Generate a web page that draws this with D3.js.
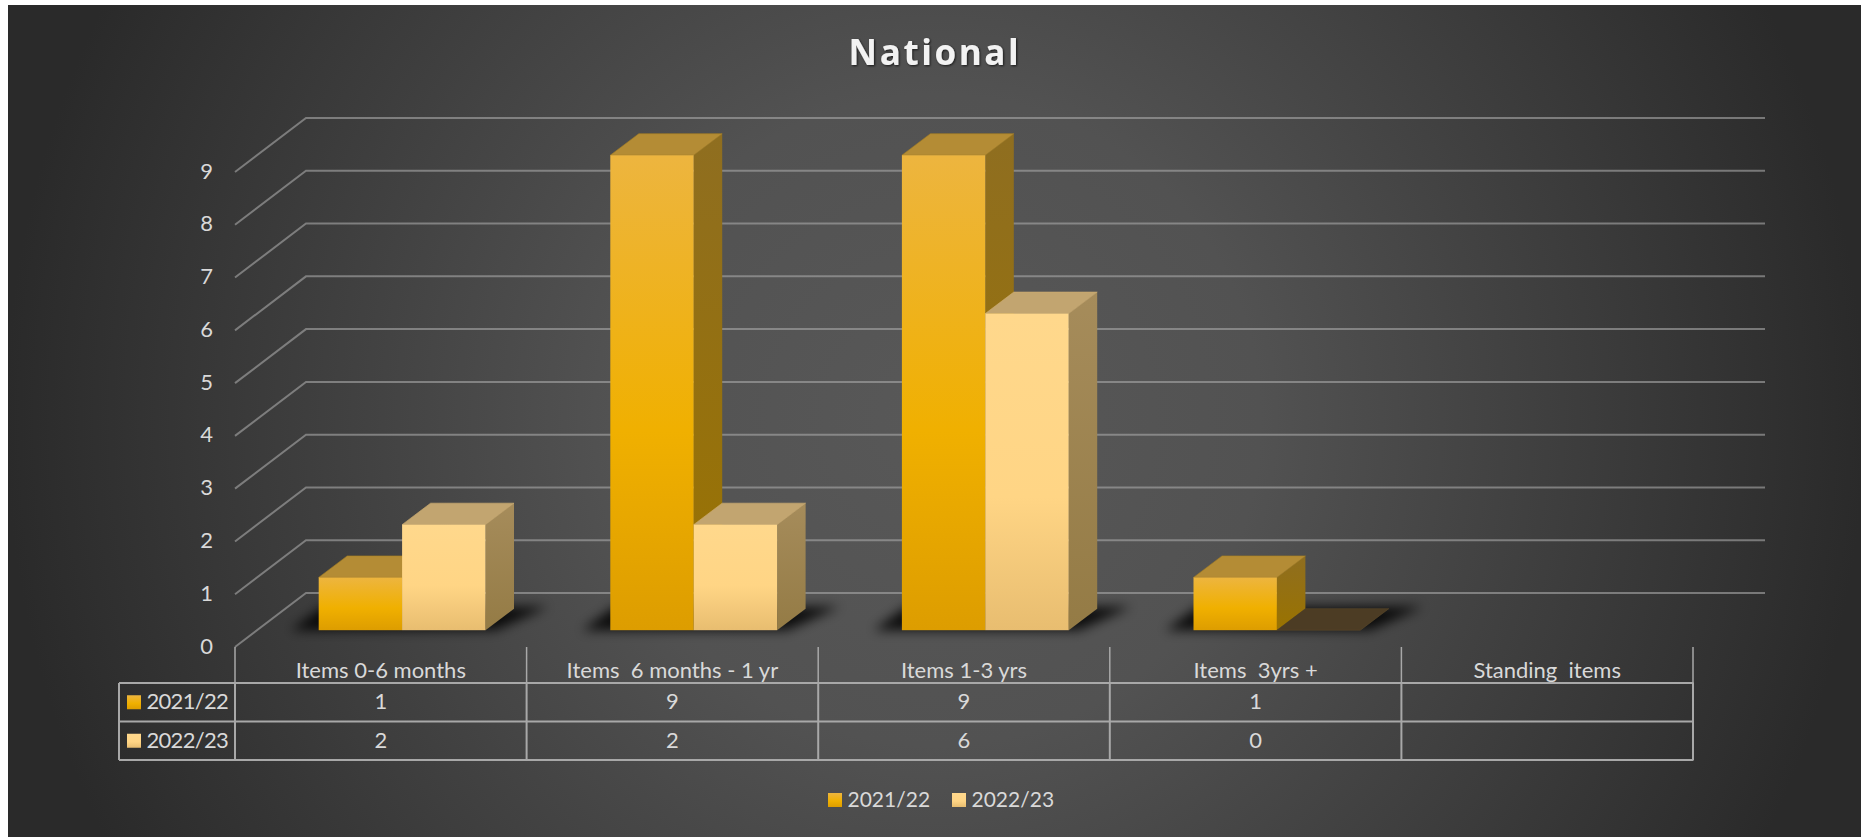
<!DOCTYPE html>
<html>
<head>
<meta charset="utf-8">
<script src="https://cdn.jsdelivr.net/npm/d3@7"></script>
<style>
  html, body { margin: 0; padding: 0; background: #fff; overflow: hidden; }
  svg { display: block; }
  text { font-family: Lato, "Open Sans", sans-serif; fill: #d9d9d9; white-space: pre; }
</style>
</head>
<body>
<div id="chart"></div>
<script>
const categories = ["Items 0-6 months", "Items  6 months - 1 yr", "Items 1-3 yrs", "Items  3yrs +", "Standing  items"];
const seriesNames = ["2021/22", "2022/23"];
const values2021 = [1, 9, 9, 1, null];
const values2022 = [2, 2, 6, 0, null];
const yTicks = [0, 1, 2, 3, 4, 5, 6, 7, 8, 9];

const width = 1861;
const height = 837;

const svg = d3.select("#chart").append("svg")
  .attr("width", width)
  .attr("height", height);
const defs = svg.append("defs");

// Background
const bg = defs.append("radialGradient").attr("id", "bg")
  .attr("gradientUnits", "userSpaceOnUse")
  .attr("cx", 935).attr("cy", 420).attr("r", 930);
bg.append("stop").attr("offset", "0").attr("stop-color", "#585858");
bg.append("stop").attr("offset", "0.35").attr("stop-color", "#525252");
bg.append("stop").attr("offset", "1").attr("stop-color", "#2a2a2a");
svg.append("rect").attr("x", 8).attr("y", 5)
  .attr("width", width - 8).attr("height", height - 5)
  .attr("fill", "url(#bg)");

// Gradients for the bar faces
function addGradient(id, stops) {
  const g = defs.append("linearGradient").attr("id", id)
    .attr("x1", 0).attr("y1", 0).attr("x2", 0).attr("y2", 1);
  stops.forEach(s => g.append("stop").attr("offset", s[0]).attr("stop-color", s[1]));
}
addGradient("front0", [[0, "#edb53f"], [0.58, "#f0b000"], [1, "#dd9d00"]]);
addGradient("front1", [[0, "#ffd88c"], [0.58, "#ffd585"], [1, "#e8bd70"]]);
addGradient("side0", [[0, "#8f6e20"], [1, "#9a7300"]]);
addGradient("side1", [[0, "#a68c5b"], [1, "#947b45"]]);

const faces = [
  { front: "url(#front0)", side: "url(#side0)", top: "#b48c35", edge: "#a87f20" },
  { front: "url(#front1)", side: "url(#side1)", top: "#c2a570", edge: "#d0ae70" }
];

const shadow = defs.append("filter").attr("id", "shadow")
  .attr("x", "-30%").attr("y", "-60%").attr("width", "160%").attr("height", "220%");
shadow.append("feGaussianBlur").attr("stdDeviation", 6);

const titleShadow = defs.append("filter").attr("id", "titleShadow");
titleShadow.append("feDropShadow").attr("dx", 1).attr("dy", 1)
  .attr("stdDeviation", 1).attr("flood-color", "#000").attr("flood-opacity", 0.7);

// Scales
const x = d3.scaleBand().domain(categories).range([235, 1693]);
const y = d3.scaleLinear().domain([0, 9]).range([647, 172]);
const barLift = 16.8;          // bars stand further back on the floor than the axis
const depthX = 28.5;
const depthY = 21.5;
const wallX = 71;
const wallY = 54;
const gridRight = 1765;
const barBand = d3.scaleBand().domain(seriesNames).range([83.7, 250.5]);

// Title
svg.append("text")
  .attr("x", 935).attr("y", 65)
  .attr("text-anchor", "middle")
  .attr("filter", "url(#titleShadow)")
  .style("font-family", "'Open Sans', sans-serif")
  .style("font-size", "35px")
  .style("font-weight", 700)
  .style("letter-spacing", "2.6px")
  .style("fill", "#f2f2f2")
  .text("National");

// Walls and gridlines
svg.append("g").selectAll("path")
  .data(yTicks)
  .enter()
  .append("path")
  .attr("fill", "none")
  .attr("stroke", "#a6a6a6")
  .attr("stroke-opacity", 0.62)
  .attr("stroke-width", 2)
  .attr("d", d => d3.line()([
    [x.range()[0], y(d)],
    [x.range()[0] + wallX, y(d) - wallY],
    [gridRight, y(d) - wallY]
  ]));

// Value axis labels
const yAxis = svg.append("g")
  .attr("transform", "translate(213,-1)")
  .call(d3.axisLeft(y).tickValues(yTicks).tickSize(0).tickPadding(0).tickFormat(d3.format("d")));
yAxis.select(".domain").remove();
yAxis.selectAll("text")
  .style("font-size", "22px")
  .style("font-family", "Lato, sans-serif")
  .attr("fill", null);

// One group per category
const rows = categories.map((c, i) => ({ category: c, vals: [values2021[i], values2022[i]] }));
const group = svg.append("g").selectAll("g")
  .data(rows.filter(r => r.vals.some(v => v !== null)))
  .enter()
  .append("g")
  .attr("transform", d => `translate(${x(d.category)},0)`);

// Blurred shadow under each group
group.append("path")
  .attr("fill", "#000")
  .attr("fill-opacity", 0.85)
  .attr("filter", "url(#shadow)")
  .attr("d", () => {
    const x0 = barBand.range()[0];
    const x1 = barBand.range()[1];
    const b = y(0) - barLift;
    return d3.line()([
      [x0 - 28, b],
      [x1 + 10, b],
      [x1 + depthX + 34, b - depthY - 2],
      [x0 + 4, b - depthY - 2]
    ]) + "Z";
  });

const bar = group.selectAll("g.bar")
  .data(d => d.vals.map((v, i) => ({ v, i, name: seriesNames[i] })))
  .enter()
  .append("g")
  .attr("class", "bar");

// Side face
bar.filter(d => d.v > 0).append("path")
  .attr("fill", d => faces[d.i].side)
  .attr("d", d => {
    const r = barBand(d.name) + barBand.bandwidth();
    const t = y(d.v) - barLift;
    const b = y(0) - barLift;
    return d3.line()([[r, t], [r + depthX, t - depthY], [r + depthX, b - depthY], [r, b]]) + "Z";
  });

// Top face
bar.append("path")
  .attr("fill", d => d.v === 0 ? "#4c3c24" : faces[d.i].top)
  .attr("stroke", d => d.v === 0 ? "#5c4a2a" : faces[d.i].edge)
  .attr("stroke-width", 0.6)
  .attr("d", d => {
    const l = barBand(d.name);
    const r = l + barBand.bandwidth();
    const t = y(d.v) - barLift;
    return d3.line()([[l, t], [l + depthX, t - depthY], [r + depthX, t - depthY], [r, t]]) + "Z";
  });

// Front face
bar.filter(d => d.v > 0).append("rect")
  .attr("x", d => barBand(d.name))
  .attr("y", d => y(d.v) - barLift)
  .attr("width", barBand.bandwidth())
  .attr("height", d => y(0) - y(d.v))
  .attr("fill", d => faces[d.i].front);

// Data table
const tableTop = 683;
const tableBottom = 760;
const rowBand = d3.scaleBand().domain(seriesNames).range([tableTop, tableBottom]);
const tableLeft = 119;
const tableLine = "#a8a8a8";
const textLift = 1.5;          // Lato sits a little low on its central baseline
const table = svg.append("g");

[tableTop, rowBand(seriesNames[1]), tableBottom].forEach(ly => {
  table.append("line")
    .attr("x1", tableLeft).attr("x2", x.range()[1] + 0.5)
    .attr("y1", ly).attr("y2", ly)
    .attr("stroke", tableLine).attr("stroke-width", 2);
});
table.append("line")
  .attr("x1", tableLeft).attr("x2", tableLeft)
  .attr("y1", tableTop).attr("y2", tableBottom)
  .attr("stroke", tableLine).attr("stroke-width", 2);

const dividers = categories.map(c => x(c)).concat([x.range()[1]]);
table.selectAll("line.tick")
  .data(dividers)
  .enter()
  .append("line")
  .attr("class", "tick")
  .attr("x1", d => d).attr("x2", d => d)
  .attr("y1", y(0)).attr("y2", tableTop)
  .attr("stroke", tableLine).attr("stroke-width", 1.5);
table.selectAll("line.div")
  .data(dividers)
  .enter()
  .append("line")
  .attr("class", "div")
  .attr("x1", d => d).attr("x2", d => d)
  .attr("y1", tableTop).attr("y2", tableBottom)
  .attr("stroke", tableLine).attr("stroke-width", 2);

table.selectAll("text.cat")
  .data(categories)
  .enter()
  .append("text")
  .attr("class", "cat")
  .attr("x", d => x(d) + x.bandwidth() / 2)
  .attr("y", 669)
  .attr("text-anchor", "middle")
  .attr("dominant-baseline", "central")
  .style("font-size", "22px")
  .text(d => d);

seriesNames.forEach((name, s) => {
  const cy = rowBand(name) + rowBand.bandwidth() / 2;
  table.append("rect")
    .attr("x", 127).attr("y", cy - 7)
    .attr("width", 14).attr("height", 14)
    .attr("fill", `url(#front${s})`);
  table.append("text")
    .attr("x", 146.5).attr("y", cy - textLift)
    .attr("dominant-baseline", "central")
    .style("font-size", "22px")
    .style("letter-spacing", "-0.7px")
    .text(name);
  table.selectAll(`text.v${s}`)
    .data(rows.filter(r => r.vals[s] !== null))
    .enter()
    .append("text")
    .attr("class", `v${s}`)
    .attr("x", d => x(d.category) + x.bandwidth() / 2)
    .attr("y", cy - textLift)
    .attr("text-anchor", "middle")
    .attr("dominant-baseline", "central")
    .style("font-size", "22px")
    .text(d => d.vals[s]);
});

// Legend
const legendX = d3.scaleOrdinal().domain(seriesNames).range([828, 952]);
const legend = svg.append("g").selectAll("g")
  .data(seriesNames)
  .enter()
  .append("g")
  .attr("transform", d => `translate(${legendX(d)},800)`);
legend.append("rect")
  .attr("y", -7).attr("width", 14).attr("height", 14)
  .attr("fill", (d, i) => `url(#front${i})`);
legend.append("text")
  .attr("x", 19.5)
  .attr("y", -textLift)
  .attr("dominant-baseline", "central")
  .style("font-size", "21px")
  .text(d => d);
</script>
</body>
</html>
